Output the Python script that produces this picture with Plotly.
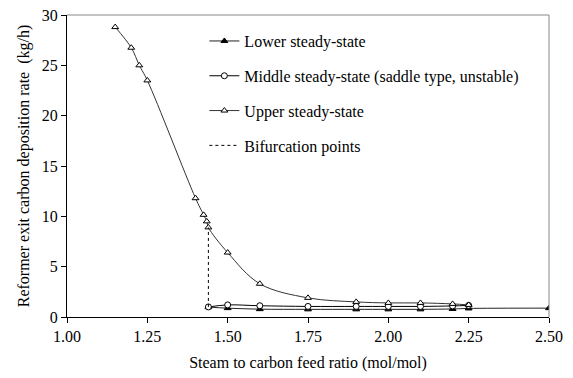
import plotly.graph_objects as go

# Upper steady-state
upper_x = [1.15, 1.20, 1.225, 1.25, 1.40, 1.425, 1.435, 1.44, 1.50, 1.60, 1.75, 1.90, 2.00, 2.10, 2.20, 2.25]
upper_y = [28.8, 26.75, 25.0, 23.5, 11.8, 10.15, 9.5, 8.9, 6.4, 3.3, 1.9, 1.5, 1.4, 1.4, 1.3, 1.2]

# Middle steady-state (saddle, unstable)
middle_x = [1.44, 1.50, 1.60, 1.75, 1.90, 2.00, 2.10, 2.20, 2.25]
middle_y = [1.0, 1.2, 1.12, 1.05, 1.05, 1.05, 1.05, 1.1, 1.15]

# Lower steady-state
lower_x = [1.44, 1.50, 1.60, 1.75, 1.90, 2.00, 2.10, 2.20, 2.25, 2.50]
lower_y = [0.98, 0.88, 0.78, 0.76, 0.76, 0.76, 0.76, 0.8, 0.85, 0.88]

# Bifurcation points
bif_x = [1.44, 1.44]
bif_y = [1.0, 8.9]

x_ticks = [1.00, 1.25, 1.50, 1.75, 2.00, 2.25, 2.50]
y_ticks = [0, 5, 10, 15, 20, 25, 30]

font = "Liberation Serif"
fs = 16

fig = go.Figure()
fig.add_trace(go.Scatter(
    x=lower_x, y=lower_y, mode="lines+markers", name="Lower steady-state",
    line=dict(color="#222", width=1, shape="spline"),
    marker=dict(symbol="triangle-up", size=6, color="black", line=dict(color="black", width=1)),
    legendgroup="a"))
fig.add_trace(go.Scatter(
    x=middle_x, y=middle_y, mode="lines+markers", name="Middle steady-state (saddle type, unstable)",
    line=dict(color="black", width=1, shape="spline"),
    marker=dict(symbol="circle", size=6, color="white", line=dict(color="black", width=1)),
    legendgroup="b"))
fig.add_trace(go.Scatter(
    x=upper_x, y=upper_y, mode="lines+markers", name="Upper steady-state",
    line=dict(color="#333", width=1, shape="spline"),
    marker=dict(symbol="triangle-up", size=6, color="white", line=dict(color="black", width=1)),
    legendgroup="c"))
fig.add_trace(go.Scatter(
    x=bif_x, y=bif_y, mode="lines", name="Bifurcation points",
    line=dict(color="black", width=1, dash="dot"),
    legendgroup="d"))

fig.update_layout(
    width=573, height=378,
    margin=dict(l=67, r=24, t=15, b=61, autoexpand=False),
    paper_bgcolor="white", plot_bgcolor="white",
    font=dict(family=font, size=fs, color="black"),
    showlegend=True,
    legend=dict(x=0.285, y=0.97, xanchor="left", yanchor="top",
                bgcolor="rgba(0,0,0,0)", font=dict(family=font, size=fs),
                tracegroupgap=11, traceorder="grouped"),
    xaxis=dict(range=[1.0, 2.5], tickvals=x_ticks, ticktext=[f"{v:.2f}" for v in x_ticks],
               ticks="outside", ticklen=5, tickcolor="black", showline=True, linecolor="black",
               linewidth=1, showgrid=False, zeroline=False, automargin=False,
               tickfont=dict(family=font, size=fs),
               title=dict(text="Steam to carbon feed ratio (mol/mol)", standoff=12,
                          font=dict(family=font, size=fs))),
    yaxis=dict(range=[0, 30], tickvals=y_ticks, ticks="outside", ticklen=5, tickcolor="black",
               showline=True, linecolor="black", linewidth=1, showgrid=False, zeroline=False,
               automargin=False, tickfont=dict(family=font, size=fs),
               title=dict(text="Reformer exit carbon deposition rate  (kg/h)", standoff=8,
                          font=dict(family=font, size=fs))),
    shapes=[
        dict(type="line", xref="paper", yref="paper", x0=0, x1=1, y0=1, y1=1,
             line=dict(color="#888", width=1)),
        dict(type="line", xref="paper", yref="paper", x0=1, x1=1, y0=0, y1=1,
             line=dict(color="#888", width=1)),
    ],
)

fig.write_html("out.html", config={"displayModeBar": False},
               post_script="document.body.style.margin='0';")
